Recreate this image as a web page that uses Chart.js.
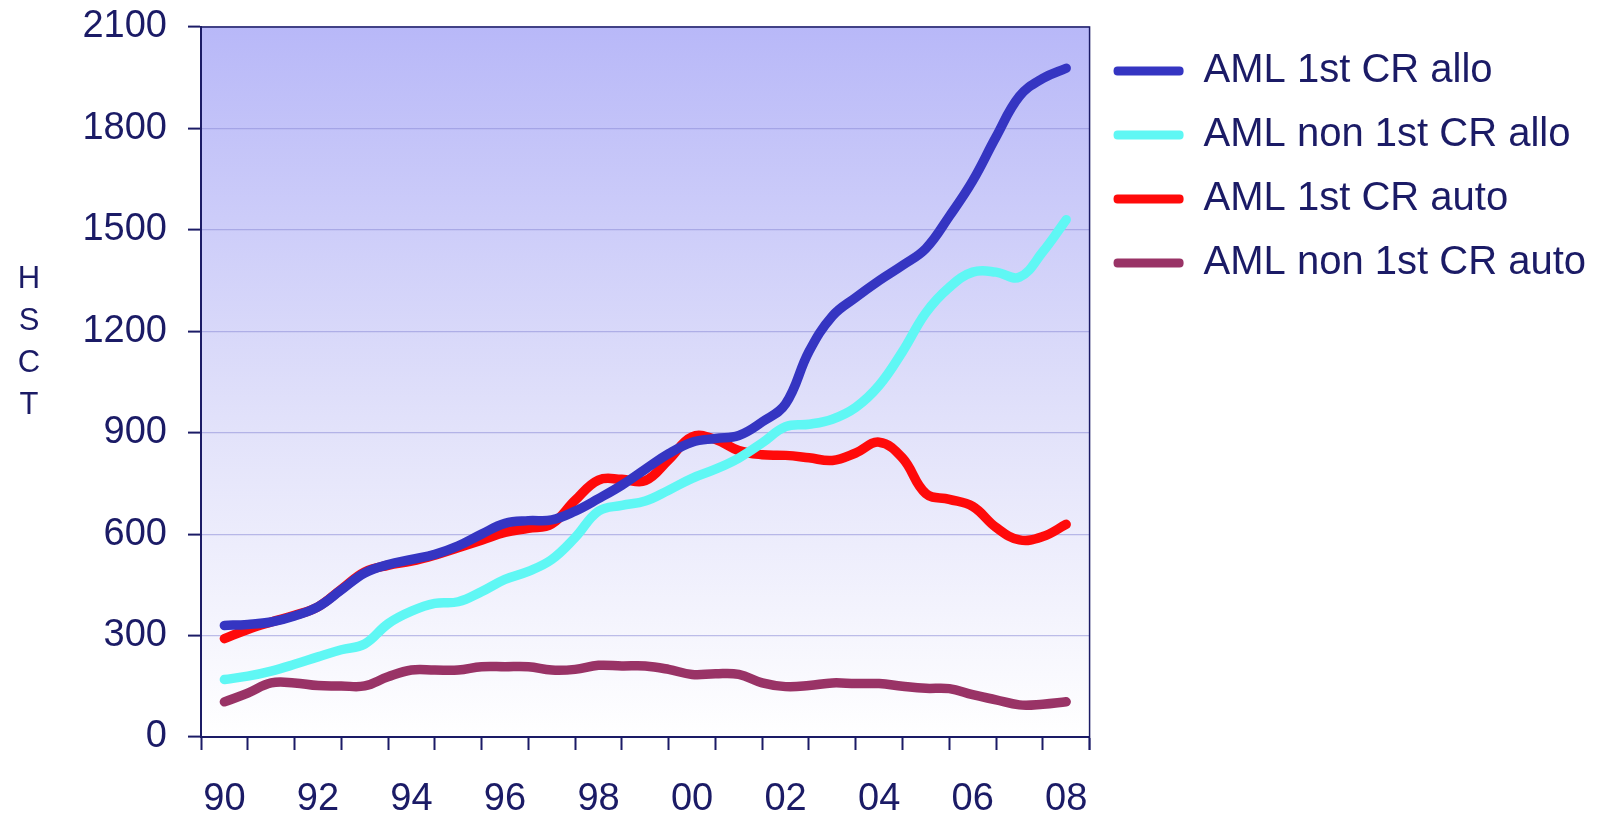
<!DOCTYPE html>
<html><head><meta charset="utf-8">
<script src="https://cdn.jsdelivr.net/npm/chart.js@4.4.1/dist/chart.umd.min.js"></script>
<style>html,body{margin:0;padding:0;background:#fff;overflow:hidden;}</style>
</head><body><canvas id="c" width="1603" height="815"></canvas>
<script>
// ---- data ----
const years = [90,90.5,91,91.5,92,92.5,93,93.5,94,94.5,95,95.5,96,96.5,97,97.5,98,98.5,99,99.5,100,100.5,101,101.5,102,102.5,103,103.5,104,104.5,105,105.5,106,106.5,107,107.5,108];
const tickYears = [90,92,94,96,98,100,102,104,106,108];
const tickLabels = ['90','92','94','96','98','00','02','04','06','08'];
const yTicks = [0,300,600,900,1200,1500,1800,2100];
const axisTitle = 'HSCT';
const seriesNames = ['AML 1st CR allo','AML non 1st CR allo','AML 1st CR auto','AML non 1st CR auto'];
const seriesColors = ['#3535c2','#5ff7f4','#ff0a0a','#993366'];
const allo1stCR    = [330,333,340,358,385,435,485,510,525,540,565,600,632,640,642,668,705,745,792,838,872,883,892,932,985,1140,1245,1300,1350,1395,1445,1540,1645,1775,1895,1948,1978];
const alloNon1stCR = [170,180,195,215,237,258,275,335,372,395,400,430,466,490,525,590,668,685,698,730,765,792,825,870,918,925,940,975,1040,1140,1255,1330,1375,1375,1360,1435,1530];
const auto1stCR    = [291,318,340,360,385,437,488,508,520,538,560,582,605,617,630,700,760,762,758,820,888,880,847,835,833,826,818,840,872,825,720,703,682,620,583,593,629];
const autoNon1stCR = [104,130,160,160,152,151,151,178,198,198,198,208,208,208,198,200,212,210,210,200,185,187,185,160,149,152,160,158,158,150,144,143,125,110,95,97,104];
const seriesValues = [allo1stCR, alloNon1stCR, auto1stCR, autoNon1stCR];

const NAVY = '#1b1b66';
const FONT = '"Liberation Sans", Arial, sans-serif';
Chart.defaults.font.family = FONT;
Chart.defaults.color = NAVY;

const datasets = seriesNames.map((name, i) => ({
  label: name,
  data: years.map((yr, j) => ({x: yr, y: seriesValues[i][j]})),
  borderColor: seriesColors[i],
  backgroundColor: seriesColors[i],
  borderWidth: 9.5,
  borderCapStyle: 'round',
  borderJoinStyle: 'round',
  pointRadius: 0,
  pointHoverRadius: 0,
  tension: 0.4,
  fill: false
}));

const bgPlugin = {
  id: 'bg',
  beforeDraw(chart) {
    const {ctx, chartArea: a} = chart;
    const g = ctx.createLinearGradient(0, a.top, 0, a.bottom);
    g.addColorStop(0, 'rgb(184,184,248)');
    g.addColorStop(0.55, 'rgb(225,225,250)');
    g.addColorStop(1, 'rgb(255,255,255)');
    ctx.save();
    ctx.fillStyle = g;
    ctx.fillRect(a.left, a.top, a.right - a.left, a.bottom - a.top);
    ctx.restore();
  },
  afterDraw(chart) {
    const {ctx, chartArea: a} = chart;
    ctx.save();
    ctx.strokeStyle = NAVY;
    ctx.lineWidth = 1.5;
    ctx.beginPath();
    ctx.moveTo(a.left, a.top); ctx.lineTo(a.right, a.top); ctx.lineTo(a.right, a.bottom + 13);
    ctx.stroke();
    // vertical axis title, stacked letters
    ctx.font = '31px ' + FONT;
    ctx.fillStyle = NAVY;
    ctx.textAlign = 'center';
    ctx.textBaseline = 'middle';
    axisTitle.split('').forEach((ch, i) => ctx.fillText(ch, 29, 279 + i * 42));
    ctx.restore();
  }
};

new Chart(document.getElementById('c'), {
  type: 'line',
  data: {datasets},
  options: {
    responsive: false,
    animation: false,
    layout: {padding: {top: 27, left: 0, right: 7, bottom: 0}},
    plugins: {
      tooltip: {enabled: false},
      legend: {
        position: 'right',
        align: 'start',
        maxWidth: 514,
        labels: {
          boxWidth: 70,
          boxHeight: 9,
          padding: 24,
          useBorderRadius: true,
          borderRadius: 4,
          color: NAVY,
          font: {size: 40, family: FONT},
          generateLabels(chart) {
            return chart.data.datasets.map((ds, i) => ({
              text: ds.label, fillStyle: ds.borderColor, strokeStyle: ds.borderColor,
              lineWidth: 0, hidden: false, datasetIndex: i, fontColor: NAVY, borderRadius: 4
            }));
          }
        }
      }
    },
    scales: {
      x: {
        type: 'linear',
        min: 89.5,
        max: 108.5,
        afterBuildTicks(scale) {
          const t = [];
          for (let k = 0; k < 20; k++) t.push({value: 89.5 + k});
          tickYears.forEach(v => t.push({value: v}));
          t.sort((a, b) => a.value - b.value);
          scale.ticks = t;
        },
        afterFit(scale) {
          scale.height = 78;
          scale.paddingLeft = 0; scale.paddingRight = 0;
        },
        border: {display: true, color: NAVY, width: 2},
        grid: {
          drawOnChartArea: false,
          drawTicks: true,
          tickLength: 13,
          tickWidth: 2,
          tickColor: (ctx) => (ctx.tick && Number.isInteger(ctx.tick.value)) ? 'rgba(0,0,0,0)' : NAVY
        },
        ticks: {
          autoSkip: false,
          maxRotation: 0,
          padding: 27,
          color: NAVY,
          font: {size: 38},
          callback(value) {
            const i = tickYears.indexOf(value);
            return i >= 0 ? tickLabels[i] : '';
          }
        }
      },
      y: {
        min: 0,
        max: 2100,
        afterBuildTicks(scale) { scale.ticks = yTicks.map(v => ({value: v})); },
        afterFit(scale) {
          scale.width = 201;
          scale.paddingTop = 0; scale.paddingBottom = 0;
        },
        border: {display: true, color: NAVY, width: 2},
        grid: {
          color: 'rgba(140,140,215,0.55)',
          lineWidth: 1.2,
          tickColor: NAVY,
          tickLength: 13,
          tickWidth: 2
        },
        ticks: {
          padding: 21,
          color: NAVY,
          font: {size: 38},
          callback(value) { return String(value); }
        }
      }
    }
  },
  plugins: [bgPlugin]
});
</script>
</body></html>
